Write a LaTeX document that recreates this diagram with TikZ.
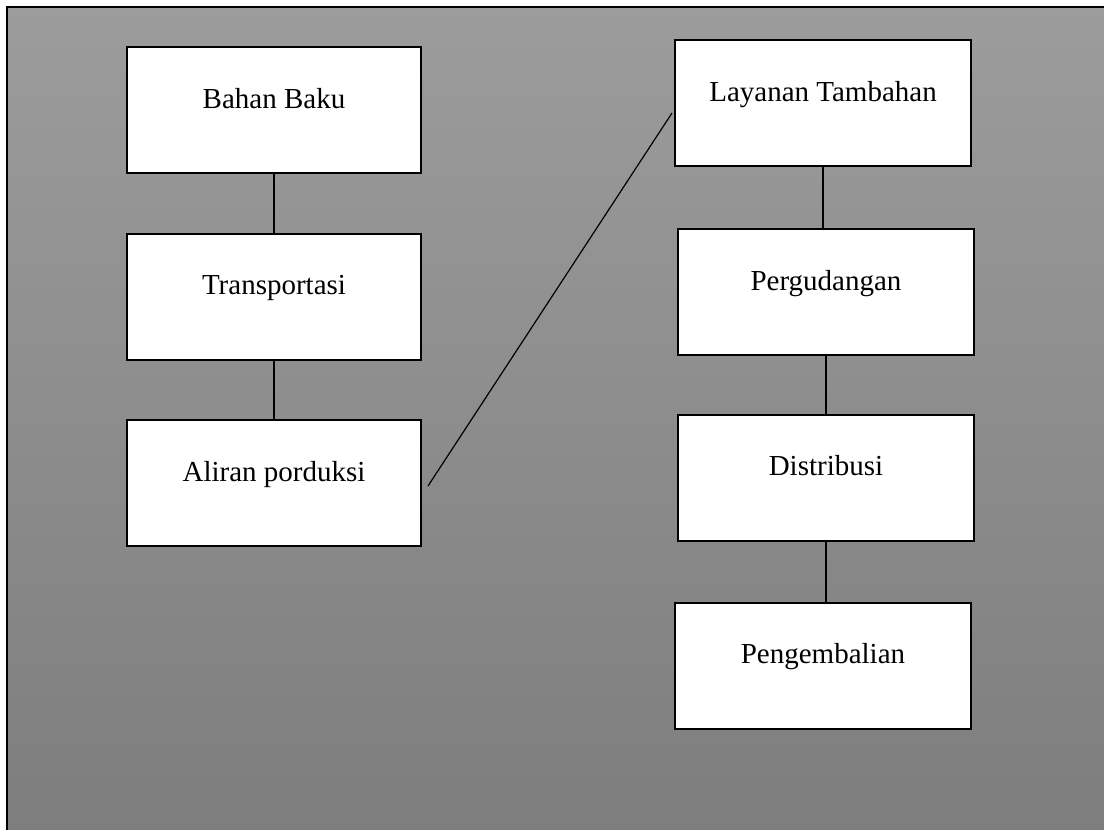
\documentclass[tikz,border=0pt]{standalone}
\usepackage{xcolor}
\usepackage{fontspec}
\setmainfont{Liberation Serif}
\usepackage{tikz}
\usetikzlibrary{calc}

\definecolor{bgatas}{RGB}{156,156,156}
\definecolor{bgbawah}{RGB}{125,125,125}

\begin{document}
\begin{tikzpicture}[x=1pt,y=-1pt,
		kotak/.style={draw=black,line width=2pt,fill=white,minimum width=294pt,minimum height=126pt,
			text height=20pt,text depth=24pt,font=\fontsize{29}{34}\selectfont},
		garis/.style={black,line width=1.2pt}]
		% Latar
		\useasboundingbox (0,0) rectangle (1104,830);
		\shade[top color=bgatas,bottom color=bgbawah,draw=black,line width=1.5pt] (7,7) rectangle (1110,840);

		% Kotak
		\node[kotak] (bahan) at (274,110) {Bahan Baku};
		\node[kotak] (transport) at (274,296.5) {Transportasi};
		\node[kotak] (aliran) at (274,483) {Aliran porduksi};
		\node[kotak,minimum width=296pt] (layanan) at (823,103) {Layanan Tambahan};
		\node[kotak,minimum width=296pt] (gudang) at (826,292) {Pergudangan};
		\node[kotak,minimum width=296pt] (distribusi) at (826,477.5) {Distribusi};
		\node[kotak,minimum width=296pt] (kembali) at (823,665.5) {Pengembalian};

		% Garis
		\draw[garis] (bahan) -- (transport);
		\draw[garis] (transport) -- (aliran);
		\draw[garis] ($(aliran.east)+(6,3)$) -- ($(layanan.west)+(-2,10)$);
		\draw[garis] (layanan.south) -- (layanan.south |- gudang.north);
		\draw[garis] (gudang.south) -- (gudang.south |- distribusi.north);
		\draw[garis] (distribusi.south) -- (distribusi.south |- kembali.north);
	\end{tikzpicture}
\end{document}
